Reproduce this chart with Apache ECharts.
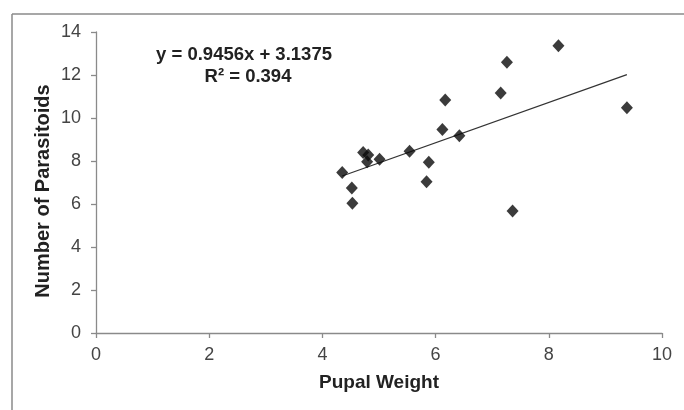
<!DOCTYPE html>
<html><head><meta charset="utf-8">
<script src="https://cdn.jsdelivr.net/npm/echarts@6/dist/echarts.min.js"></script>
<style>html,body{margin:0;padding:0;background:#fff}#c{width:684px;height:410px}</style>
</head><body><div id="c"></div>
<script>
const pupalWeight = [4.35, 4.52, 4.53, 4.72, 4.81, 4.79, 5.01, 5.54, 5.84, 5.88, 6.12, 6.17, 6.42, 7.15, 7.26, 7.36, 8.17, 9.38];
const parasitoids = [7.47, 6.74, 6.03, 8.40, 8.28, 7.97, 8.08, 8.45, 7.04, 7.94, 9.47, 10.84, 9.18, 11.16, 12.59, 5.67, 13.36, 10.48];
const trendX = [4.35, 9.38];
const trendY = [7.3, 12.02];
const equationText = 'y = 0.9456x + 3.1375';
const r2Text = 'R² = 0.394';
const xTitle = 'Pupal Weight';
const yTitle = 'Number of Parasitoids';

const FONT = '"Liberation Sans", Arial, sans-serif';
const chart = echarts.init(document.getElementById('c'), null, {renderer: 'canvas'});
chart.setOption({
  animation: false,
  backgroundColor: '#fff',
  grid: {left: 96, right: 22, top: 32, bottom: 77, containLabel: false},
  xAxis: {
    type: 'value', min: 0, max: 10, interval: 2,
    name: xTitle, nameLocation: 'middle', nameGap: 40,
    nameTextStyle: {fontFamily: FONT, fontSize: 19, fontWeight: 'bold', color: '#222'},
    axisLine: {show: true, lineStyle: {color: '#8a8a8a', width: 1.3}},
    axisTick: {show: true, length: 5, lineStyle: {color: '#8a8a8a', width: 1.3}},
    axisLabel: {fontFamily: FONT, fontSize: 18, color: '#444', margin: 13},
    splitLine: {show: false}
  },
  yAxis: {
    type: 'value', min: 0, max: 14, interval: 2,
    axisLine: {show: true, lineStyle: {color: '#8a8a8a', width: 1.3}},
    axisTick: {show: true, length: 5, lineStyle: {color: '#8a8a8a', width: 1.3}},
    axisLabel: {fontFamily: FONT, fontSize: 18, color: '#444', margin: 15},
    splitLine: {show: false}
  },
  graphic: [
    {type: 'line', shape: {x1: 12, y1: 14, x2: 684, y2: 14}, style: {stroke: '#8a8a8a', lineWidth: 1.5}, silent: true},
    {type: 'line', shape: {x1: 12, y1: 14, x2: 12, y2: 410}, style: {stroke: '#8a8a8a', lineWidth: 1.5}, silent: true},
    {type: 'text', x: 43, y: 191, rotation: Math.PI / 2,
     style: {text: yTitle, font: 'bold 20px ' + FONT, fill: '#222', align: 'center', verticalAlign: 'middle'}},
    {type: 'text', x: 244, y: 55, style: {text: equationText, font: 'bold 18.5px ' + FONT, fill: '#222', align: 'center', verticalAlign: 'middle'}},
    {type: 'text', x: 248, y: 77, style: {text: r2Text, font: 'bold 18.5px ' + FONT, fill: '#222', align: 'center', verticalAlign: 'middle'}}
  ],
  series: [
    {
      type: 'line', data: trendX.map((x, i) => [x, trendY[i]]),
      symbol: 'none', lineStyle: {color: '#333', width: 1.2}, z: 2
    },
    {
      type: 'scatter', data: pupalWeight.map((x, i) => [x, parasitoids[i]]),
      symbol: 'diamond', symbolSize: [12, 13],
      itemStyle: {color: '#0a0a0a'}, z: 3
    }
  ]
});
</script></body></html>
